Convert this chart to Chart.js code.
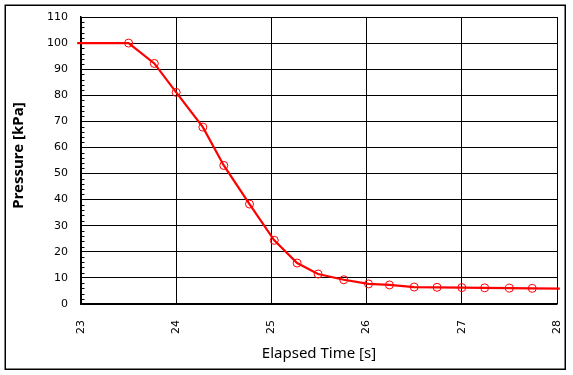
<!DOCTYPE html>
<html>
<head>
<meta charset="utf-8">
<script src="https://cdn.jsdelivr.net/npm/chart.js@4/dist/chart.umd.min.js"></script>
<style>
html,body{margin:0;padding:0;background:#fff;}
#wrap{width:573px;height:375px;position:relative;}
</style>
</head>
<body>
<div id="wrap"><canvas id="c" width="573" height="375"></canvas></div>
<script>
// Marker samples (Elapsed Time [s], Pressure [kPa])
const markerTime = [23.5, 23.77, 24.0, 24.28, 24.5, 24.77, 25.03, 25.27, 25.49, 25.76, 26.02, 26.24, 26.5, 26.74, 27.0, 27.24, 27.5, 27.74];
const markerPressure = [100, 92.2, 81.1, 67.8, 53.1, 38.3, 24.4, 15.7, 11.5, 9.3, 7.7, 7.3, 6.5, 6.4, 6.3, 6.2, 6.1, 6.0];
// Continuous trace (extends slightly past the axis ends)
const traceTime = [22.96, 23.5, 23.77, 24.0, 24.28, 24.5, 24.77, 25.03, 25.27, 25.49, 25.76, 26.02, 26.24, 26.5, 26.74, 27.0, 27.24, 27.5, 27.74, 28.03];
const tracePressure = [100, 100, 92.2, 81.1, 67.8, 53.1, 38.3, 24.4, 15.7, 11.5, 9.3, 7.7, 7.3, 6.5, 6.4, 6.3, 6.2, 6.1, 6.0, 5.9];
const xTicks = [23, 24, 25, 26, 27, 28];
const yTicks = [0, 10, 20, 30, 40, 50, 60, 70, 80, 90, 100, 110];
const yMinorStep = 2;
const xTitle = 'Elapsed Time [s]';
const yTitle = 'Pressure [kPa]';

const trace = traceTime.map((t, i) => ({x: t, y: tracePressure[i]}));
const markers = markerTime.map((t, i) => ({x: t, y: markerPressure[i]}));

const framePlugin = {
  id: 'frame',
  beforeDraw(chart) {
    const ctx = chart.ctx;
    ctx.save();
    ctx.fillStyle = '#fff';
    ctx.fillRect(0, 0, chart.width, chart.height);
    ctx.restore();
  },
  afterDraw(chart) {
    const ctx = chart.ctx;
    ctx.save();
    ctx.strokeStyle = '#000';
    ctx.lineWidth = 1.5;
    ctx.strokeRect(5.25, 5.25, 560, 364);
    // minor ticks on y axis (inside)
    const ys = chart.scales.y;
    const xs = chart.scales.x;
    const left = xs.getPixelForValue(xs.min);
    ctx.lineWidth = 1;
    ctx.beginPath();
    for (let v = ys.min; v <= ys.max; v += yMinorStep) {
      if (v % 10 === 0) continue;
      const py = Math.round(ys.getPixelForValue(v)) + 0.5;
      ctx.moveTo(left, py);
      ctx.lineTo(left + 3.5, py);
    }
    ctx.stroke();
    // y axis title
    const ca = chart.chartArea;
    ctx.translate(19, (ca.top + ca.bottom) / 2 - 5);
    ctx.rotate(-Math.PI / 2);
    ctx.fillStyle = '#000';
    ctx.font = 'bold 15px "Noto Sans"';
    ctx.textAlign = 'center';
    ctx.textBaseline = 'middle';
    ctx.fillText(yTitle, 0, 0);
    ctx.restore();
  }
};

new Chart(document.getElementById('c'), {
  type: 'scatter',
  data: {
    datasets: [
      {
        data: trace,
        showLine: true,
        borderColor: '#ff0000',
        borderWidth: 2.2,
        pointRadius: 0,
        tension: 0,
        clip: false,
        order: 2
      },
      {
        data: markers,
        showLine: false,
        borderColor: '#ff0000',
        backgroundColor: 'rgba(0,0,0,0)',
        borderWidth: 1,
        pointRadius: 4,
        order: 1
      }
    ]
  },
  options: {
    responsive: false,
    animation: false,
    devicePixelRatio: 1,
    layout: {padding: {left: 0, right: 16, top: 17, bottom: 0}},
    plugins: {legend: {display: false}, tooltip: {enabled: false}},
    scales: {
      x: {
        type: 'linear',
        min: 23, max: 28,
        afterBuildTicks(scale) { scale.ticks = xTicks.map(v => ({value: v})); },
        afterFit(scale) { scale.height = 71; scale.paddingLeft = 0; scale.paddingRight = 0; },
        ticks: {
          minRotation: 90, maxRotation: 90,
          padding: 16,
          color: '#000',
          font: {family: 'DejaVu Sans', size: 11}
        },
        grid: {color: '#000', lineWidth: 1, drawTicks: false},
        border: {color: '#000', width: 1.5},
        title: {
          display: true, text: xTitle, color: '#000',
          font: {family: 'Noto Sans', size: 15},
          padding: {top: 0, bottom: 12}
        }
      },
      y: {
        type: 'linear',
        min: 0, max: 110,
        afterBuildTicks(scale) { scale.ticks = yTicks.map(v => ({value: v})); },
        afterFit(scale) { scale.width = 81; scale.paddingTop = 0; scale.paddingBottom = 0; },
        ticks: {
          padding: 13,
          color: '#000',
          font: {family: 'DejaVu Sans', size: 11}
        },
        grid: {color: '#000', lineWidth: 1, drawTicks: false},
        border: {color: '#000', width: 1.5},
        title: {display: false, text: yTitle}
      }
    }
  },
  plugins: [framePlugin]
});
</script>
</body>
</html>
